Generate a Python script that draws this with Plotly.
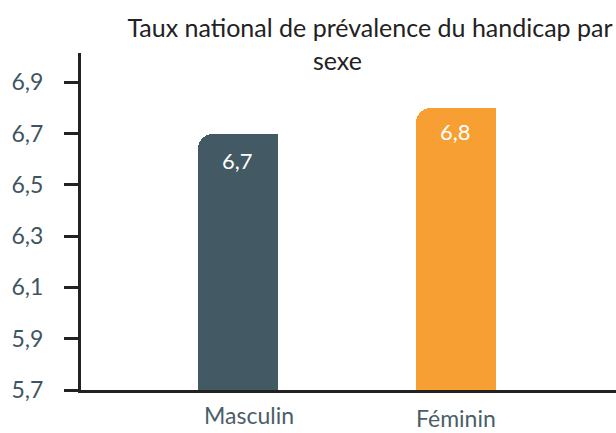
import plotly.graph_objects as go

categories = ["Masculin", "Féminin"]
values = [6.7, 6.8]
value_labels = ["6,7", "6,8"]
colors = ["#435a65", "#f89f33"]
tick_vals = [5.7, 5.9, 6.1, 6.3, 6.5, 6.7, 6.9]
tick_text = ["5,7", "5,9", "6,1", "6,3", "6,5", "6,7", "6,9"]
title_line1 = "Taux national de prévalence du handicap par"
title_line2 = "sexe"

FONT = "Lato"
xpos = list(range(len(categories)))
base = 5.7
W = 0.37

fig = go.Figure()
# main bars with rounded top corners
fig.add_trace(go.Bar(
    x=xpos, y=values,
    width=W, offset=-W / 2,
    marker=dict(color=colors, cornerradius=15, line=dict(width=0)),
    hoverinfo="skip", showlegend=False,
))
# right half overlay to keep top-right corner square
fig.add_trace(go.Bar(
    x=xpos, y=values,
    width=W / 2, offset=0,
    marker=dict(color=colors, line=dict(width=0)),
    hoverinfo="skip", showlegend=False,
))

annotations = []
val_dy = [-27, -24]
for i, (v, lab) in enumerate(zip(values, value_labels)):
    annotations.append(dict(
        x=i, y=v, xref="x", yref="y", text=lab, showarrow=False,
        yanchor="middle", yshift=val_dy[i],
        font=dict(family=FONT, size=22, color="white"),
    ))

cat_dx = [0.05, 0.0]
cat_dy = [-25, -28]
for i, c in enumerate(categories):
    annotations.append(dict(
        x=i + cat_dx[i], y=base, xref="x", yref="y", text=c, showarrow=False,
        yanchor="middle", yshift=cat_dy[i], borderpad=0,
        font=dict(family=FONT, size=23, color="#4a5e68"),
    ))

annotations.append(dict(
    x=(337 - 81) / (616 - 81), y=(390 - 60) / (390 - 53),
    xref="paper", yref="paper", text=title_line2, showarrow=False,
    xanchor="center", yanchor="middle",
    font=dict(family=FONT, size=25, color="#222222"),
))

fig.update_layout(
    width=616, height=433,
    margin=dict(l=81, r=0, t=53, b=43),
    paper_bgcolor="white", plot_bgcolor="white",
    barmode="overlay",
    bargap=0,
    title=dict(text=title_line1, x=370 / 616, xanchor="center", xref="container",
               y=1 - 28 / 433, yanchor="middle", yref="container",
               font=dict(family=FONT, size=25, color="#222222")),
    xaxis=dict(range=[-0.72, 1.734], showticklabels=False, ticks="",
               showgrid=False, zeroline=False, showline=True,
               linecolor="#222222", linewidth=3, fixedrange=True),
    yaxis=dict(range=[base, 7.014], tickvals=tick_vals, ticktext=tick_text,
               ticks="outside", ticklen=14, tickwidth=3, tickcolor="#222222",
               showgrid=False, zeroline=False, showline=True,
               linecolor="#222222", linewidth=3, ticklabelstandoff=16,
               fixedrange=True,
               tickfont=dict(family=FONT, size=23, color="#3e5561")),
    annotations=annotations,
    showlegend=False,
)

fig.write_html("out.html", config={"displayModeBar": False},
               post_script="document.body.style.margin='0';document.body.style.padding='0';")
